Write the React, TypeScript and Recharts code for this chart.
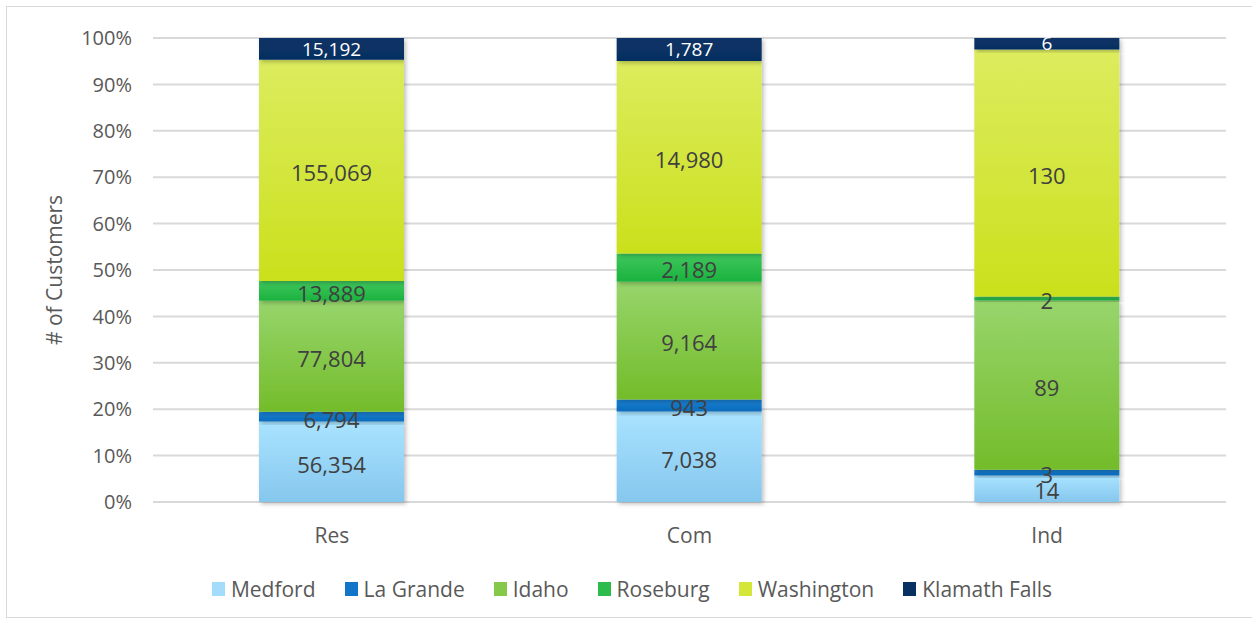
import React from 'react';
import { BarChart, Bar, XAxis, YAxis, CartesianGrid, LabelList, Legend } from 'recharts';

const categories = ['Res', 'Com', 'Ind'];
const seriesNames = ['Medford', 'La Grande', 'Idaho', 'Roseburg', 'Washington', 'Klamath Falls'];
const medford = [56354, 7038, 14];
const laGrande = [6794, 943, 3];
const idaho = [77804, 9164, 89];
const roseburg = [13889, 2189, 2];
const washington = [155069, 14980, 130];
const klamathFalls = [15192, 1787, 6];
const yTicks = [0, 0.1, 0.2, 0.3, 0.4, 0.5, 0.6, 0.7, 0.8, 0.9, 1];

const seriesValues = [medford, laGrande, idaho, roseburg, washington, klamathFalls];
const data = categories.map((c, i) => {
  const row: Record<string, string | number> = { name: c };
  seriesNames.forEach((s, j) => { row[s] = seriesValues[j][i]; });
  return row;
});

const gradients: Record<string, [string, string]> = {
  'Medford': ['#a9e3ff', '#86c7ee'],
  'La Grande': ['#1b82d3', '#0a6bbd'],
  'Idaho': ['#97d56c', '#74bc2a'],
  'Roseburg': ['#40c75d', '#1bb23e'],
  'Washington': ['#dcec5e', '#cbe01c'],
  'Klamath Falls': ['#083265', '#062f61'],
};
const legendColors: Record<string, string> = {
  'Medford': '#a3ddfb',
  'La Grande': '#1176c8',
  'Idaho': '#85c84a',
  'Roseburg': '#2dbb4c',
  'Washington': '#d4e638',
  'Klamath Falls': '#083163',
};

const FONT = '"Open Sans", "Noto Sans", sans-serif';
const fmt = (v: any) => Number(v).toLocaleString('en-US');

const LegendContent = () => (
  <div style={{ display: 'flex', justifyContent: 'center', alignItems: 'center', fontFamily: FONT, fontSize: 21, lineHeight: '26px', color: '#595959', paddingRight: 15 }}>
    {seriesNames.map((s, i) => (
      <div key={s} style={{ display: 'flex', alignItems: 'center', marginRight: i === seriesNames.length - 1 ? 0 : 29 }}>
        <div style={{ width: 13, height: 14, background: legendColors[s], marginRight: 6 }} />
        <span>{s}</span>
      </div>
    ))}
  </div>
);

export default function App() {
  return (
    <div style={{ position: 'absolute', left: 0, top: 0, width: 1252, height: 620, background: '#fff' }}>
      <div style={{ position: 'absolute', left: 6, top: 6, width: 1260, height: 612, border: '1.5px solid #d9d9d9', boxSizing: 'border-box' }} />
      <div style={{ position: 'absolute', left: 0, top: 0 }}>
        <BarChart
          width={1252}
          height={620}
          data={data}
          stackOffset="expand"
          margin={{ top: 38, right: 26, bottom: 62, left: 53 }}
          barSize={145}
        >
          <defs>
            {seriesNames.map((s, i) => (
              <linearGradient key={s} id={`g${i}`} x1="0" y1="0" x2="0" y2="1">
                <stop offset="0%" stopColor={gradients[s][0]} />
                <stop offset="100%" stopColor={gradients[s][1]} />
              </linearGradient>
            ))}
            <filter id="shadow" x="-10%" y="-10%" width="130%" height="140%">
              <feDropShadow dx="2" dy="2" stdDeviation="2" floodColor="#000" floodOpacity="0.25" />
            </filter>
          </defs>
          <CartesianGrid vertical={false} stroke="#d9d9d9" strokeWidth={2} />
          <XAxis
            dataKey="name"
            axisLine={false}
            tickLine={false}
            tickMargin={20}
            tick={{ fill: '#595959', fontSize: 21, fontFamily: FONT }}
          />
          <YAxis
            width={100}
            domain={[0, 1]}
            ticks={yTicks}
            interval={0}
            axisLine={false}
            tickLine={false}
            tickMargin={15}
            tickFormatter={(v: number) => `${Math.round(v * 100)}%`}
            tick={{ fill: '#595959', fontSize: 20, fontFamily: FONT }}
            label={{ value: '# of Customers', angle: -90, position: 'insideLeft', offset: 2, style: { fill: '#595959', fontSize: 21, fontFamily: FONT, textAnchor: 'middle' } }}
          />
          <Legend verticalAlign="bottom" wrapperStyle={{ bottom: 18 }} content={<LegendContent />} />
          {seriesNames.map((s, i) => (
            <Bar key={s} dataKey={s} stackId="a" fill={`url(#g${i})`} isAnimationActive={false} style={{ filter: 'url(#shadow)' }}>
              <LabelList
                dataKey={s}
                position="center"
                formatter={fmt}
                style={{
                  fill: s === 'Klamath Falls' ? '#ffffff' : '#404040',
                  fontSize: s === 'Klamath Falls' ? 19 : 22,
                  fontFamily: FONT,
                  transform: s === 'Klamath Falls' ? undefined : 'translateY(3px)',
                }}
              />
            </Bar>
          ))}
        </BarChart>
      </div>
    </div>
  );
}
